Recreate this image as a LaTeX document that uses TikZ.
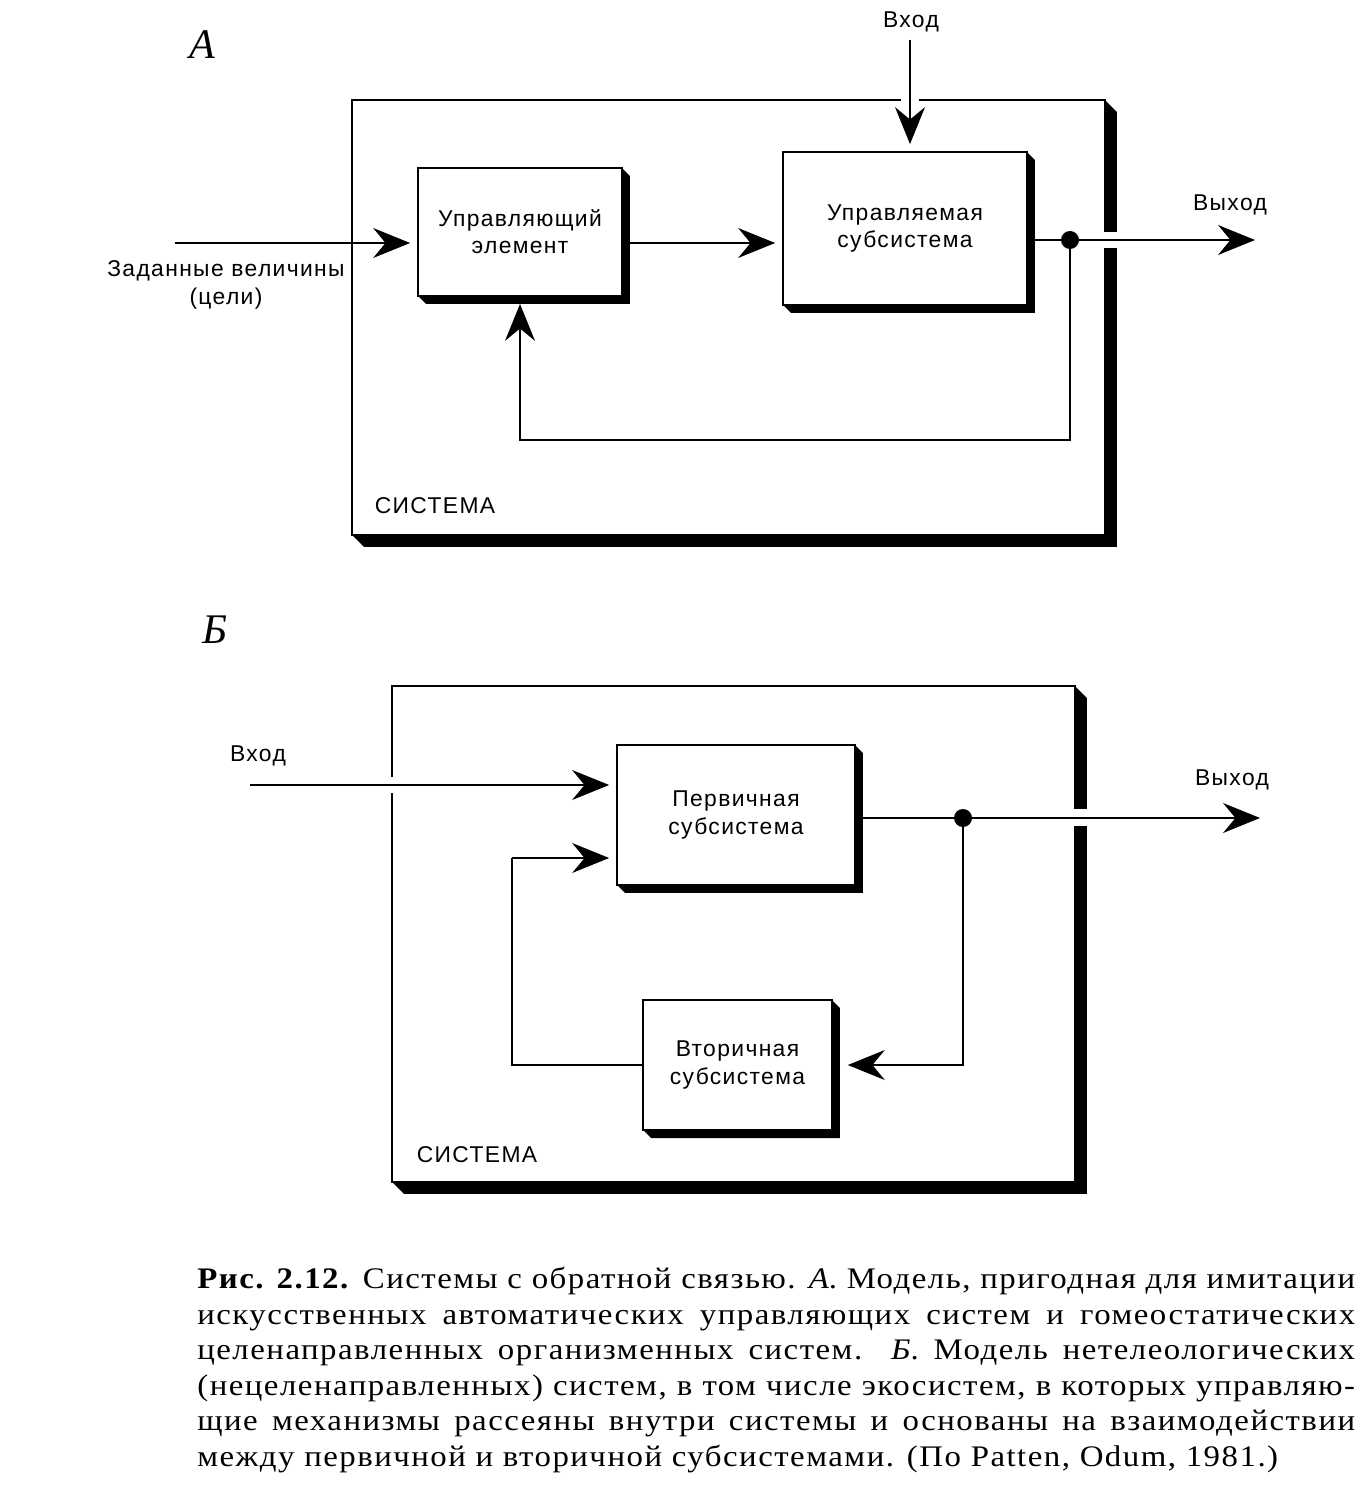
\documentclass[tikz,border=0pt]{standalone}
\usepackage{fontspec}
\setmainfont{Liberation Serif}[LetterSpace=5,FakeStretch=1.1]
\newfontfamily\dfont{Liberation Sans}[LetterSpace=6]
\newfontfamily\pfont{Liberation Serif}
\usetikzlibrary{arrows.meta,positioning,calc}
\tikzset{
  blk/.style={draw,line width=1.2pt,fill=white,inner sep=0pt,outer sep=0pt,
    align=center,font=\dfont\fontsize{13}{15.5}\selectfont},
  sysbox/.style={draw,line width=1.2pt,inner sep=0pt,outer sep=0pt},
  lbl/.style={font=\dfont\fontsize{13}{15.5}\selectfont,align=center,inner sep=0pt},
  panel/.style={font=\pfont\itshape\fontsize{24}{24}\selectfont,inner sep=0pt},
  dot/.style={circle,fill,inner sep=0pt,minimum size=0.36cm},
  arr/.style={-{Stealth[length=21pt,width=17pt,inset=7pt]},line width=1.2pt,shorten >=4.5pt},
  ln/.style={line width=1.2pt},
}
\begin{document}
\begin{tikzpicture}[x=0.02cm,y=-0.02cm]
  \useasboundingbox (0,0) rectangle (1369,1493);

  % --- A ---
  \node[panel] (pA) at (202,45) {А};
  \node[sysbox,minimum width=15.06cm,minimum height=8.7cm] (sysA) at (728.5,317.5) {};
  \node[blk,minimum width=4.08cm,minimum height=2.56cm] (ctrl) at (520,232) {Управляющий\\элемент};
  \node[blk,minimum width=4.88cm,minimum height=3.06cm] (plant) at (905,228.5) {Управляемая\\субсистема};
  \node[lbl] (inAl) at (911,22) {Вход};
  \node[lbl] (goal) at (226,285) {Заданные величины\\(цели)};
  \node[lbl] (outAl) at (1230,205) {Выход};
  \node[lbl] (sysAl) at (435,506) {СИСТЕМА};
  \node[dot] (jA) at (1070,240) {};
  \coordinate (inA) at (175,243);
  \coordinate (topA) at (910,40);
  \coordinate (outA) at (1255,240);
  \coordinate (fbA) at (1070,440);

  % --- Б ---
  \node[panel] (pB) at (215,630) {Б};
  \node[sysbox,minimum width=13.66cm,minimum height=9.92cm] (sysB) at (733.5,934) {};
  \node[blk,minimum width=4.76cm,minimum height=2.8cm] (prim) at (736,815) {Первичная\\субсистема};
  \node[blk,minimum width=3.78cm,minimum height=2.6cm] (sec) at (737.5,1065) {Вторичная\\субсистема};
  \node[lbl] (inBl) at (258,756) {Вход};
  \node[lbl] (outBl) at (1232,780) {Выход};
  \node[lbl] (sysBl) at (477,1155) {СИСТЕМА};
  \node[dot] (jB) at (963,818) {};
  \coordinate (inB) at (250,785);
  \coordinate (outB) at (1260,818);
  \coordinate (fbB) at (512,858);

  % shadows
  \foreach \b/\d in {ctrl/8,plant/8,sysA/12,prim/8,sec/8,sysB/12}
    \fill (\b.north east) -- ++(\d,\d) -- ($(\b.south east)+(\d,\d)$)
      -- ($(\b.south west)+(\d,\d)$) -- (\b.south west) -- (\b.south east) -- cycle;

  % gaps in the system borders
  \fill[white] ($(sysA.north -| topA)+(-9,-4)$) rectangle ($(sysA.north -| topA)+(9,4)$);
  \fill[white] ($(sysA.east |- jA)+(-4,-8)$) rectangle ($(sysA.east |- jA)+(18,8)$);
  \fill[white] ($(sysB.west |- inB)+(-4,-8)$) rectangle ($(sysB.west |- inB)+(4,8)$);
  \fill[white] ($(sysB.east |- jB)+(-4,-9)$) rectangle ($(sysB.east |- jB)+(18,8)$);

  % connectors A
  \draw[arr] (topA) -- (topA |- plant.north);
  \draw[arr] (inA) -- (inA -| ctrl.west);
  \draw[arr] (ctrl.east |- inA) -- (plant.west |- inA);
  \draw[ln] (plant.east |- jA) -- (jA);
  \draw[arr,shorten >=0pt] (jA) -- (outA);
  \draw[arr] (jA) -- (fbA) -| (ctrl.south);

  % connectors Б
  \draw[arr] (inB) -- (inB -| prim.west);
  \draw[ln] (prim.east |- jB) -- (jB);
  \draw[arr,shorten >=0pt] (jB) -- (outB);
  \draw[arr,shorten >=9pt] (jB) |- (sec.east);
  \draw[ln] (sec.west) -| (fbB);
  \draw[arr] (fbB) -- (fbB -| prim.west);

  % caption
  \node[anchor=north west,text width=23.16cm,align=justify,inner sep=0pt,
    font=\fontsize{17}{20.2}\selectfont] (cap) at (197,1267)
    {\tolerance=9999\hyphenpenalty=10000
     \textbf{Рис. 2.12.} Системы с обратной связью. \textit{А}. Модель, пригодная для имитации\linebreak
     искусственных автоматических управляющих систем и гомеостатических\linebreak
     целенаправленных организменных систем. \textit{Б}. Модель нетелеологических\linebreak
     (нецеленаправленных) систем, в том числе экосистем, в которых управляю-\linebreak
     щие механизмы рассеяны внутри системы и основаны на взаимодействии\linebreak
     между первичной и вторичной субсистемами. (По Patten, Odum, 1981.)};
\end{tikzpicture}
\end{document}
